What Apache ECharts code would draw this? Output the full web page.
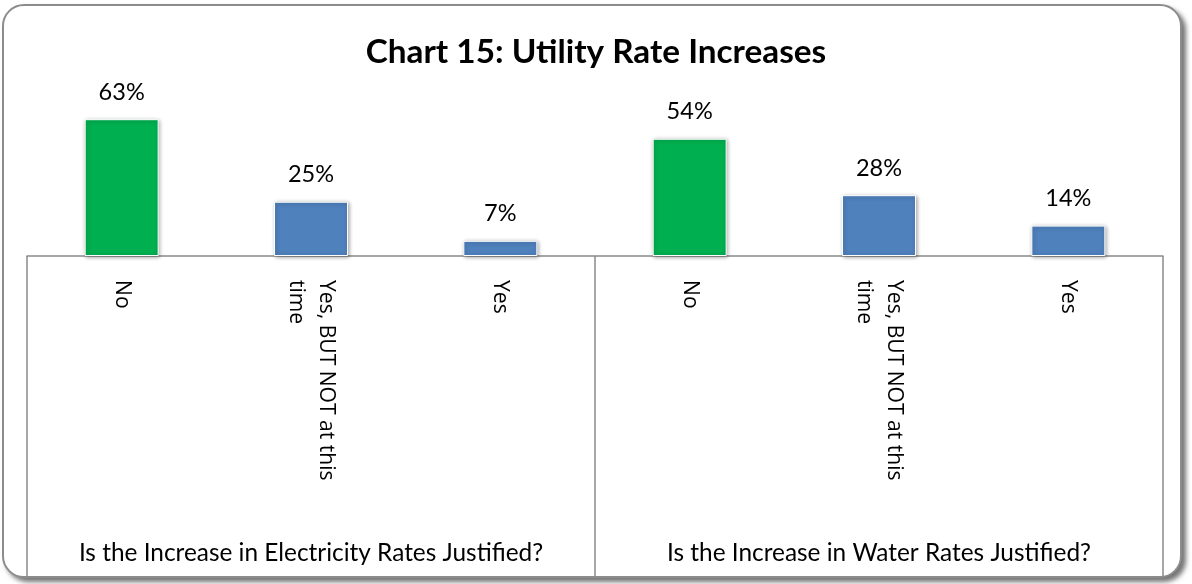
<!DOCTYPE html>
<html>
<head>
<meta charset="utf-8">
<script src="https://cdn.jsdelivr.net/npm/echarts@6/dist/echarts.min.js"></script>
<style>
    html, body { margin: 0; padding: 0; background: #fff; }
    #wrap { position: relative; width: 1192px; height: 584px; overflow: hidden; }
    #frame {
        position: absolute; left: 2px; top: 4px; width: 1176px; height: 570px;
        border: 2px solid #8c8c8c; border-radius: 22px;
        box-shadow: 4px 4px 5px rgba(0, 0, 0, 0.55);
        background: #fff;
    }
    #chart { position: absolute; left: 0; top: 0; width: 1192px; height: 584px; }
</style>
</head>
<body>
<div id="wrap">
    <div id="frame"></div>
    <div id="chart"></div>
</div>
<script>
    // categories (inner level) and groups (outer level)
    const answers = ['No', 'Yes, BUT NOT at this\ntime', 'Yes', 'No', 'Yes, BUT NOT at this\ntime', 'Yes'];
    const questions = ['Is the Increase in Electricity Rates Justified?', 'Is the Increase in Water Rates Justified?'];
    const percents = [63, 25, 7, 54, 28, 14];
    const barColors = ['#00B050', '#4F81BD', '#4F81BD', '#00B050', '#4F81BD', '#4F81BD'];

    const font = 'Lato, "Open Sans", sans-serif';
    const rotFont = '"Open Sans", "Noto Sans", sans-serif';

    // pick a font size so a sample string has the same width as in the original
    let ctx = document.createElement('canvas').getContext('2d');
    function fitSize(text, weight, family, target) {
        ctx.font = weight + ' 100px ' + family;
        let w = ctx.measureText(text).width;
        return Math.round(1000 * target / w) / 10;
    }

    const titleSize = fitSize('Chart 15: Utility Rate Increases', 'bold', font, 460);
    const groupSize = fitSize(questions[0], 'normal', font, 465);
    const valueSize = fitSize('63%', 'normal', font, 46);
    const rotSize = fitSize('Yes, BUT NOT at this', 'normal', rotFont, 201);

    const axisY = 256;

    let chart = echarts.init(document.getElementById('chart'), null, {renderer: 'canvas'});

    const option = {
        backgroundColor: 'transparent',
        animation: false,
        title: {
            text: 'Chart 15: Utility Rate Increases',
            left: 'center',
            top: Math.round(58 - 0.8 * titleSize),
            textStyle: {fontFamily: font, fontSize: titleSize, fontWeight: 'bold', color: '#000'}
        },
        grid: {left: 27, right: 29, top: 104, bottom: 584 - axisY, containLabel: false},
        xAxis: [
            {
                type: 'category',
                data: answers,
                position: 'bottom',
                axisLine: {show: true, lineStyle: {color: '#8a8a8a', width: 1.5}},
                axisTick: {show: false},
                axisLabel: {
                    interval: 0,
                    rotate: -90,
                    margin: 24,
                    fontFamily: rotFont,
                    fontSize: rotSize,
                    lineHeight: 30,
                    color: '#000'
                }
            },
            {
                type: 'category',
                data: questions,
                position: 'bottom',
                axisLine: {show: false},
                axisTick: {show: true, length: 320, alignWithLabel: false, lineStyle: {color: '#8a8a8a', width: 1.5}},
                axisLabel: {
                    interval: 0,
                    margin: Math.round(561 - 0.8 * groupSize - axisY),
                    fontFamily: font,
                    fontSize: groupSize,
                    color: '#000'
                }
            }
        ],
        yAxis: {
            type: 'value',
            min: 0,
            max: 70,
            show: false,
            splitLine: {show: false}
        },
        series: [
            {
                type: 'bar',
                xAxisIndex: 0,
                barWidth: 74,
                data: percents.map(function (v, i) {
                    return {value: v, itemStyle: {color: barColors[i]}};
                }),
                itemStyle: {
                    borderColor: '#ffffff',
                    borderWidth: 1,
                    shadowBlur: 4,
                    shadowColor: 'rgba(0,0,0,0.35)',
                    shadowOffsetX: 1,
                    shadowOffsetY: 1
                },
                label: {
                    show: true,
                    position: 'top',
                    distance: 15,
                    formatter: '{c}%',
                    fontFamily: font,
                    fontSize: valueSize,
                    color: '#000'
                }
            }
        ]
    };

    chart.setOption(option);
</script>
</body>
</html>
